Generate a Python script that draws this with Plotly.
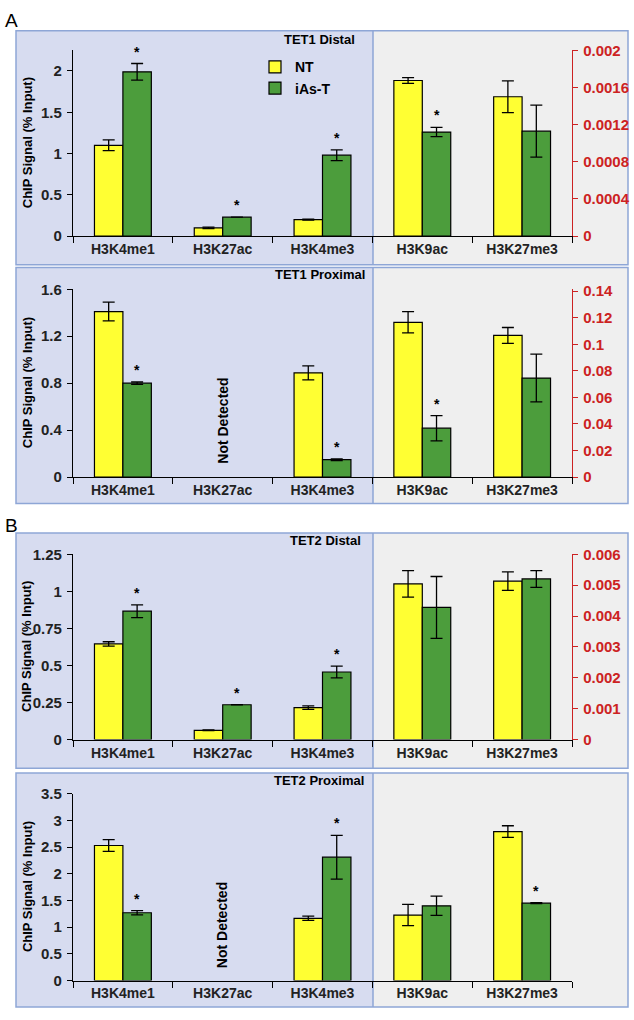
import plotly.graph_objects as go

W, H = 634, 1020

categories = ["H3K4me1", "H3K27ac", "H3K4me3", "H3K9ac", "H3K27me3"]
series_names = ["NT", "iAs-T"]

# ---- Panel A top: TET1 Distal (last two categories on right axis)
tet1d_nt = [1.10, 0.10, 0.20, 0.001675, 0.00150]
tet1d_nt_err = [0.065, 0.01, 0.005, 0.00003, 0.00017]
tet1d_ias = [1.99, 0.23, 0.98, 0.00112, 0.00113]
tet1d_ias_err = [0.10, 0.0, 0.065, 0.00005, 0.00028]
tet1d_star = [1, 1, 1, 1, 0]

# ---- Panel A bottom: TET1 Proximal
tet1p_nt = [1.41, None, 0.888, 0.1166, 0.1067]
tet1p_nt_err = [0.08, 0, 0.06, 0.008, 0.006]
tet1p_ias = [0.80, None, 0.148, 0.0368, 0.0746]
tet1p_ias_err = [0.01, 0, 0.007, 0.0095, 0.018]
tet1p_star = [1, 0, 1, 1, 0]

# ---- Panel B top: TET2 Distal
tet2d_nt = [0.645, 0.063, 0.216, 0.00504, 0.00513]
tet2d_nt_err = [0.015, 0.003, 0.012, 0.00043, 0.0003]
tet2d_ias = [0.866, 0.235, 0.456, 0.00428, 0.0052]
tet2d_ias_err = [0.043, 0.0, 0.04, 0.001, 0.00027]
tet2d_star = [1, 1, 1, 0, 0]

# ---- Panel B bottom: TET2 Proximal (all on one axis)
tet2p_nt = [2.53, None, 1.166, 1.227, 2.79]
tet2p_nt_err = [0.11, 0, 0.04, 0.2, 0.11]
tet2p_ias = [1.27, None, 2.31, 1.40, 1.45]
tet2p_ias_err = [0.04, 0, 0.41, 0.18, 0.01]
tet2p_star = [1, 0, 1, 0, 1]

# tick labels
t1d_left_ticks = [0, 0.5, 1, 1.5, 2]
t1d_left_text = ["0", "0.5", "1", "1.5", "2"]
t1d_right_ticks = [0, 0.0004, 0.0008, 0.0012, 0.0016, 0.002]
t1d_right_text = ["0", "0.0004", "0.0008", "0.0012", "0.0016", "0.002"]
t1p_left_ticks = [0, 0.4, 0.8, 1.2, 1.6]
t1p_left_text = ["0", "0.4", "0.8", "1.2", "1.6"]
t1p_right_ticks = [0, 0.02, 0.04, 0.06, 0.08, 0.10, 0.12, 0.14]
t1p_right_text = ["0", "0.02", "0.04", "0.06", "0.08", "0.1", "0.12", "0.14"]
t2d_left_ticks = [0, 0.25, 0.5, 0.75, 1, 1.25]
t2d_left_text = ["0", "0.25", "0.5", "0.75", "1", "1.25"]
t2d_right_ticks = [0, 0.001, 0.002, 0.003, 0.004, 0.005, 0.006]
t2d_right_text = ["0", "0.001", "0.002", "0.003", "0.004", "0.005", "0.006"]
t2p_left_ticks = [0, 0.5, 1, 1.5, 2, 2.5, 3, 3.5]
t2p_left_text = ["0", "0.5", "1", "1.5", "2", "2.5", "3", "3.5"]

panels = [
    dict(title="TET1 Distal", nt=tet1d_nt, nte=tet1d_nt_err, ias=tet1d_ias, iase=tet1d_ias_err,
         star=tet1d_star, lrange=[0, 2.25], lt=t1d_left_ticks, ltt=t1d_left_text,
         rrange=[0, 0.002], rt=t1d_right_ticks, rtt=t1d_right_text, nd=False,
         zero=231, top=42, box=(22, 260), title_px=(357, 31)),
    dict(title="TET1 Proximal", nt=tet1p_nt, nte=tet1p_nt_err, ias=tet1p_ias, iase=tet1p_ias_err,
         star=tet1p_star, lrange=[0, 1.6], lt=t1p_left_ticks, ltt=t1p_left_text,
         rrange=[0, 0.1415], rt=t1p_right_ticks, rtt=t1p_right_text, nd=True,
         zero=476, top=285, box=(263, 503), title_px=(367, 270), nd_y=419),
    dict(title="TET2 Distal", nt=tet2d_nt, nte=tet2d_nt_err, ias=tet2d_ias, iase=tet2d_ias_err,
         star=tet2d_star, lrange=[0, 1.25], lt=t2d_left_ticks, ltt=t2d_left_text,
         rrange=[0, 0.006], rt=t2d_right_ticks, rtt=t2d_right_text, nd=False,
         zero=743, top=554.5, box=(533, 772), title_px=(363, 540)),
    dict(title="TET2 Proximal", nt=tet2p_nt, nte=tet2p_nt_err, ias=tet2p_ias, iase=tet2p_ias_err,
         star=tet2p_star, lrange=[0, 3.5], lt=t2p_left_ticks, ltt=t2p_left_text,
         rrange=None, nd=True,
         zero=988, top=798, box=(777, 1015), title_px=(366, 785), nd_y=932),
]

YELLOW = "#ffff33"
GREEN = "#4c9d3c"
RED = "#cc2222"
BLUE_BG = "#d7dcf0"
GRAY_BG = "#efefef"
BORDER = "#8ea6d6"
FONT = "Liberation Sans, Arial, sans-serif"

X0, X1 = 73, 572          # plot area left/right in px
BOX_L, BOX_R, SEP = 16, 628, 373

def px(x):
    return x / W

def py(y):
    return 1 - y / H

fig = go.Figure()
layout = dict(
    width=W, height=H, margin=dict(l=0, r=0, t=0, b=0),
    paper_bgcolor="white", plot_bgcolor="rgba(0,0,0,0)",
    barmode="group", bargap=0.43, bargroupgap=0,
    font=dict(family=FONT, size=14, color="black"),
    showlegend=True,
    legend=dict(x=px(255), y=py(43), xanchor="left", yanchor="top",
                bgcolor="rgba(0,0,0,0)", font=dict(family=FONT, size=14, weight="bold"),
                itemwidth=30, tracegroupgap=0),
)
shapes = []
annotations = []

GREEN_OFFSET = (1 - 0.43) / 4  # centre of second bar within a category

for k, p in enumerate(panels, start=1):
    xa = "x" if k == 1 else f"x{k}"
    yl_n = 2 * k - 1
    yr_n = 2 * k
    yl = "y" if yl_n == 1 else f"y{yl_n}"
    yr = f"y{yr_n}"
    dom_y = [py(p["zero"]), py(p["top"])]
    has_right = p["rrange"] is not None
    nleft = 3 if has_right else 5

    groups = [(yl, slice(0, nleft))]
    if has_right:
        groups.append((yr, slice(3, 5)))
    for ya, sl in groups:
        for name, vals, errs, col in [(series_names[0], p["nt"], p["nte"], YELLOW),
                                      (series_names[1], p["ias"], p["iase"], GREEN)]:
            fig.add_trace(go.Bar(
                x=categories[sl], y=vals[sl], name=name,
                xaxis=xa, yaxis=ya,
                marker=dict(color=col, line=dict(color="black", width=1.2)),
                error_y=dict(type="data", array=errs[sl], color="black", thickness=1.3, width=6),
                showlegend=(k == 1 and ya == yl), legendgroup=name,
            ))

    xkey = "xaxis" if k == 1 else f"xaxis{k}"
    layout[xkey] = dict(
        domain=[px(X0), px(X1)], anchor=yl, type="category",
        categoryorder="array", categoryarray=categories, range=[-0.5, 4.5],
        showline=True, linecolor="black", linewidth=1.3,
        ticks="outside", tickson="boundaries", ticklen=6, tickcolor="black", tickwidth=1.3,
        tickfont=dict(family=FONT, size=14, weight="bold", color="#222"),
        showgrid=False, zeroline=False, fixedrange=True,
    )
    ylkey = "yaxis" if yl_n == 1 else f"yaxis{yl_n}"
    layout[ylkey] = dict(
        domain=dom_y, anchor=xa, range=p["lrange"],
        tickvals=p["lt"], ticktext=p["ltt"],
        showline=True, linecolor="black", linewidth=1.3,
        ticks="outside", ticklen=5, tickcolor="black", tickwidth=1.3,
        tickfont=dict(family=FONT, size=15, weight="bold", color="#222"),
        showgrid=False, zeroline=False, ticklabelstandoff=2,
    )
    if has_right:
        layout[f"yaxis{yr_n}"] = dict(
            anchor=xa, overlaying=yl, side="right", range=p["rrange"],
            tickvals=p["rt"], ticktext=p["rtt"],
            showline=True, linecolor=RED, linewidth=1.3,
            ticks="outside", ticklen=5, tickcolor=RED, tickwidth=1.3,
            tickfont=dict(family=FONT, size=15, weight="bold", color=RED),
            showgrid=False, zeroline=False, ticklabelstandoff=2,
        )

    # panel background boxes
    top, bot = p["box"]
    shapes.append(dict(type="rect", xref="paper", yref="paper", layer="below",
                       x0=px(BOX_L), x1=px(SEP), y0=py(bot), y1=py(top),
                       fillcolor=BLUE_BG, line=dict(width=0)))
    shapes.append(dict(type="rect", xref="paper", yref="paper", layer="below",
                       x0=px(SEP), x1=px(BOX_R), y0=py(bot), y1=py(top),
                       fillcolor=GRAY_BG, line=dict(width=0)))
    shapes.append(dict(type="rect", xref="paper", yref="paper", layer="below",
                       x0=px(BOX_L), x1=px(BOX_R), y0=py(bot), y1=py(top),
                       fillcolor="rgba(0,0,0,0)", line=dict(color=BORDER, width=1.5)))
    shapes.append(dict(type="line", xref="paper", yref="paper", layer="below",
                       x0=px(SEP), x1=px(SEP), y0=py(bot), y1=py(top),
                       line=dict(color=BORDER, width=1.5)))

    # panel title
    tx, ty = p["title_px"]
    annotations.append(dict(x=px(tx), y=py(ty), xref="paper", yref="paper",
                            text=p["title"], showarrow=False, xanchor="right", yanchor="middle",
                            font=dict(family=FONT, size=13, weight="bold")))
    # y-axis title
    annotations.append(dict(x=px(27), y=(dom_y[0] + dom_y[1]) / 2, xref="paper", yref="paper",
                            text="ChIP Signal (% Input)", showarrow=False, textangle=-90,
                            xanchor="center", yanchor="middle",
                            font=dict(family=FONT, size=13, weight="bold")))
    # not detected
    if p["nd"]:
        annotations.append(dict(x=1, y=py(p["nd_y"]), xref=xa, yref="paper",
                                text="Not Detected", showarrow=False, textangle=-90,
                                xanchor="center", yanchor="middle",
                                font=dict(family=FONT, size=14, weight="bold")))
    # significance stars
    for i, s in enumerate(p["star"]):
        if not s:
            continue
        ya = yr if (has_right and i >= 3) else yl
        yv = p["ias"][i] + p["iase"][i]
        annotations.append(dict(x=i + GREEN_OFFSET, y=yv, xref=xa, yref=ya,
                                text="*", showarrow=False, xanchor="center", yanchor="bottom",
                                yshift=2, font=dict(family=FONT, size=14, weight="bold")))

# panel letters
annotations.append(dict(x=px(3), y=py(12), xref="paper", yref="paper", text="A",
                        showarrow=False, xanchor="left", yanchor="middle",
                        font=dict(family=FONT, size=19)))
annotations.append(dict(x=px(3), y=py(525), xref="paper", yref="paper", text="B",
                        showarrow=False, xanchor="left", yanchor="middle",
                        font=dict(family=FONT, size=19)))

layout["shapes"] = shapes
layout["annotations"] = annotations
fig.update_layout(**layout)

pin_page = ("document.body.style.margin='0px';"
            "document.documentElement.style.overflow='hidden';"
            "var d=document.getElementById('{plot_id}');"
            "d.style.position='fixed';d.style.left='0px';d.style.top='0px';")
fig.write_html("out.html", config={"displayModeBar": False}, post_script=pin_page)
